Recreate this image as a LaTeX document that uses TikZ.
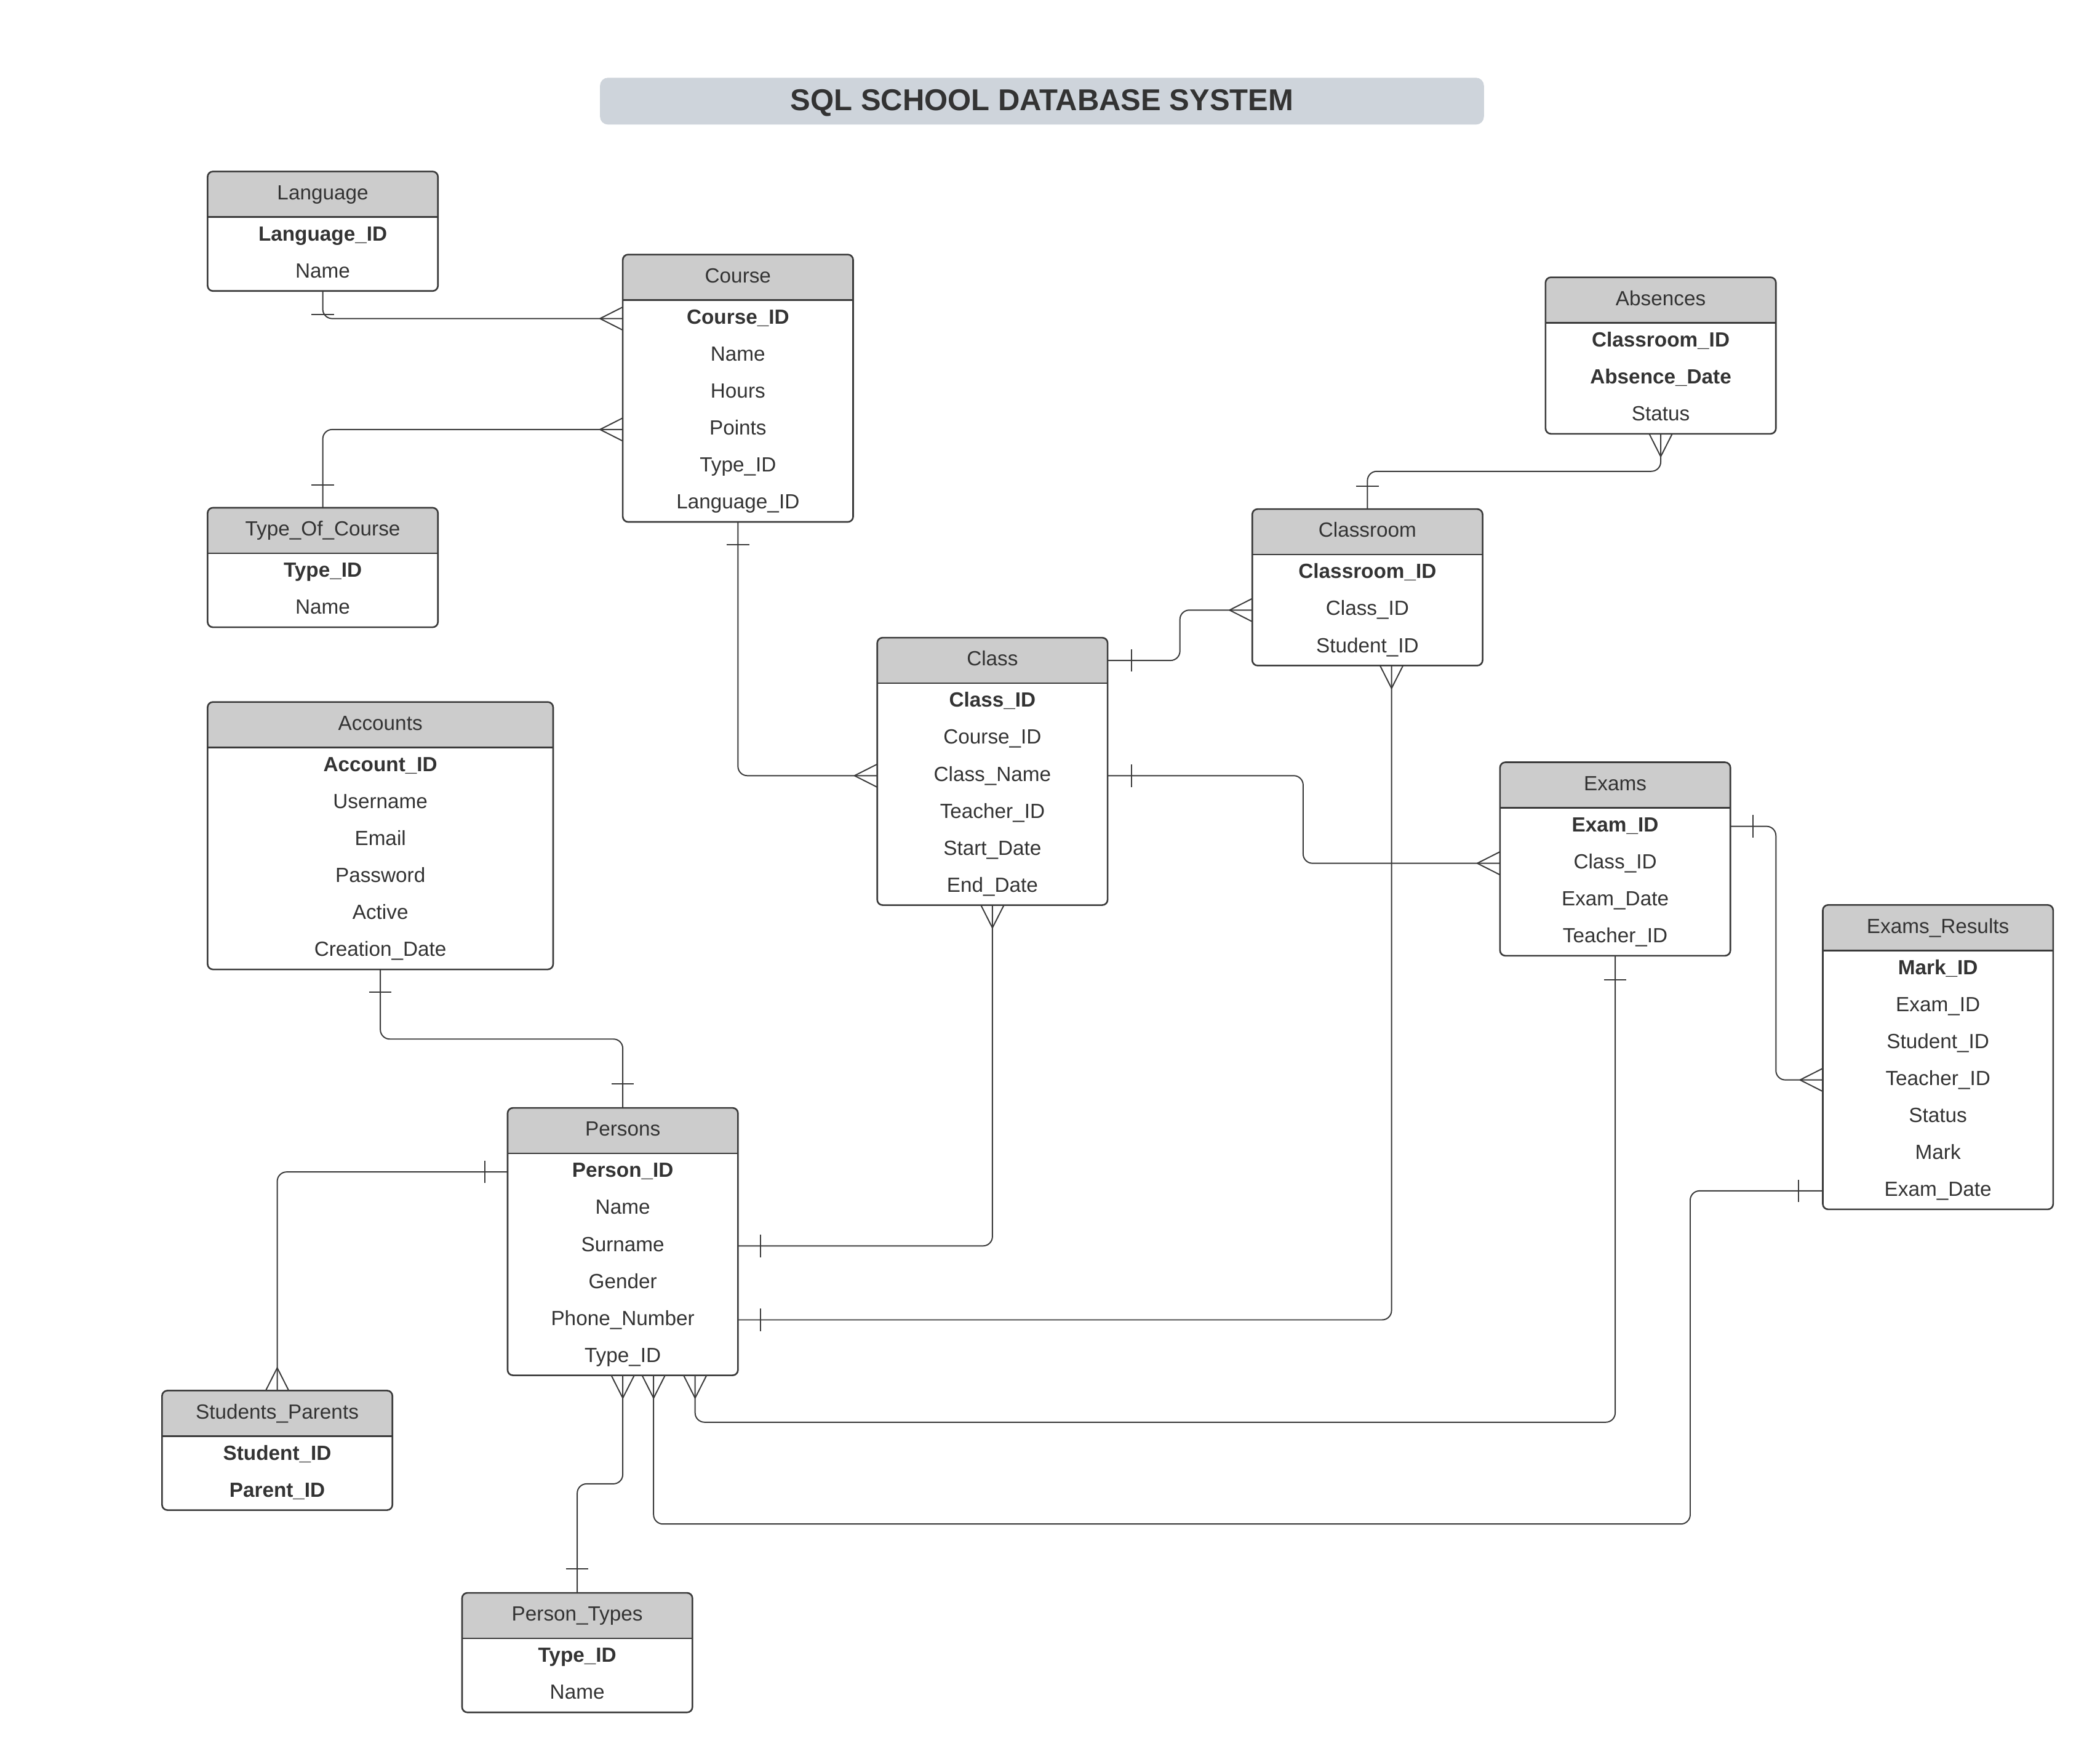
\documentclass[tikz,border=0pt]{standalone}
\usepackage{fontspec}
\setmainfont{Liberation Sans}
\usetikzlibrary{calc}
\definecolor{ink}{HTML}{333333}
\definecolor{hdrgray}{HTML}{CCCCCC}
\definecolor{titlebg}{HTML}{CED4DB}
\definecolor{linec}{HTML}{3A3A3A}
\tikzset{
  ebox/.style={draw=linec, line width=0.6pt, rounded corners=2pt, inner sep=0pt, outer sep=0pt},
  hdrtxt/.style={inner sep=0pt, outer sep=0pt, text=ink, text height=5pt, text depth=1pt, font=\fontsize{7.65}{9}\selectfont},
  rowtxt/.style={inner sep=0pt, outer sep=0pt, text=ink, text height=5pt, text depth=1pt, font=\fontsize{7.65}{9}\selectfont},
  rb/.style={font=\fontsize{7.65}{9}\selectfont\bfseries},
  rn/.style={},
  conn/.style={draw=linec, line width=0.45pt, rounded corners=3.5pt},
}
\newcommand\entity[7]{%
  \fill[hdrgray] (#2,#4+34) [rounded corners=2pt] -- (#2,#4) -- (#2+#3,#4) [sharp corners] -- (#2+#3,#4+34) -- cycle;
  \node[ebox, anchor=north west, minimum width={#3*0.5pt}, minimum height={(34+27.6*#5)*0.5pt}] (#1) at (#2,#4) {};
  \node[hdrtxt, anchor=north west, minimum width={#3*0.5pt}, minimum height=17pt] (#1-h) at (#2,#4) {#6};
  \draw[linec, line width=0.6pt] (#1-h.south west) -- (#1-h.south east);
  \foreach [count=\i] \s/\t in {#7} {
    \node[rowtxt, \s, anchor=north west, minimum width={#3*0.5pt}, minimum height=13.8pt] (#1-\i) at ({#2},{#4+34+27.6*(\i-1)}) {\t};
  }%
}
\newcommand\crowL[1]{\draw[conn] ($(#1)+(-17,0)$) -- ($(#1)+(0,-8.6)$) ($(#1)+(-17,0)$) -- ($(#1)+(0,8.6)$);}
\newcommand\crowB[1]{\draw[conn] ($(#1)+(0,17)$) -- ($(#1)+(-8.6,0)$) ($(#1)+(0,17)$) -- ($(#1)+(8.6,0)$);}
\newcommand\crowT[1]{\draw[conn] ($(#1)+(0,-17)$) -- ($(#1)+(-8.6,0)$) ($(#1)+(0,-17)$) -- ($(#1)+(8.6,0)$);}
\newcommand\barH[2]{\draw[conn] ($(#1)+(#2,-8.4)$) -- ($(#1)+(#2,8.4)$);}
\newcommand\barV[2]{\draw[conn] ($(#1)+(-8.4,#2)$) -- ($(#1)+(8.4,#2)$);}
\begin{document}
\begin{tikzpicture}[x=0.5pt,y=-0.5pt]
\fill[white] (0,0) rectangle (1568,1313);
\useasboundingbox (0,0) rectangle (1568,1313);
% title
\node[fill=titlebg, rounded corners=3pt, minimum width=330pt, minimum height=17.5pt, inner sep=0pt, text=ink, text height=8pt, text depth=1pt, font=\fontsize{11.25}{13}\selectfont\bfseries] (title) at (778,75.5) {SQL SCHOOL DATABASE SYSTEM};
% entities
\entity{lang}{155}{172}{128}{2}{Language}{rb/Language\_ID, rn/Name}
\entity{course}{465}{172}{190}{6}{Course}{rb/Course\_ID, rn/Name, rn/Hours, rn/Points, rn/Type\_ID, rn/Language\_ID}
\entity{toc}{155}{172}{379}{2}{Type\_Of\_Course}{rb/Type\_ID, rn/Name}
\entity{abs}{1154}{172}{207}{3}{Absences}{rb/Classroom\_ID, rb/Absence\_Date, rn/Status}
\entity{croom}{935}{172}{380}{3}{Classroom}{rb/Classroom\_ID, rn/Class\_ID, rn/Student\_ID}
\entity{class}{655}{172}{476}{6}{Class}{rb/Class\_ID, rn/Course\_ID, rn/Class\_Name, rn/Teacher\_ID, rn/Start\_Date, rn/End\_Date}
\entity{acc}{155}{258}{524}{6}{Accounts}{rb/Account\_ID, rn/Username, rn/Email, rn/Password, rn/Active, rn/Creation\_Date}
\entity{exams}{1120}{172}{569}{4}{Exams}{rb/Exam\_ID, rn/Class\_ID, rn/Exam\_Date, rn/Teacher\_ID}
\entity{res}{1361}{172}{675.5}{7}{Exams\_Results}{rb/Mark\_ID, rn/Exam\_ID, rn/Student\_ID, rn/Teacher\_ID, rn/Status, rn/Mark, rn/Exam\_Date}
\entity{pers}{379}{172}{827}{6}{Persons}{rb/Person\_ID, rn/Name, rn/Surname, rn/Gender, rn/Phone\_Number, rn/Type\_ID}
\entity{sp}{121}{172}{1038}{2}{Students\_Parents}{rb/Student\_ID, rb/Parent\_ID}
\entity{pt}{345}{172}{1189}{2}{Person\_Types}{rb/Type\_ID, rn/Name}
% helper coordinates
\coordinate (cra) at ($(croom.south)+(18,0)$);
\coordinate (pb2) at ($(pers.south)+(23,0)$);
\coordinate (pb3) at ($(pers.south)+(54,0)$);
% connectors
\draw[conn] (lang.south) |- (course-1.west);
\crowL{course-1.west} \barV{lang.south}{17.5}
\draw[conn] (toc.north) |- (course-4.west);
\crowL{course-4.west} \barV{toc.north}{-17}
\draw[conn] (course.south) |- (class-3.west);
\crowL{class-3.west} \barV{course.south}{17}
\draw[conn] (class-h.east) -- ++(54,0) |- (croom-2.west);
\crowL{croom-2.west} \barH{class-h.east}{18}
\draw[conn] (abs.south) -- ++(0,28) -| (croom.north);
\crowB{abs.south} \barV{croom.north}{-17}
\draw[conn] (cra) |- (pers-5.east);
\crowB{cra} \barH{pers-5.east}{17}
\draw[conn] (class.south) |- (pers-3.east);
\crowB{class.south} \barH{pers-3.east}{17}
\draw[conn] (class-3.east) -- ++(146,0) |- (exams-2.west);
\barH{class-3.east}{18} \crowL{exams-2.west}
\draw[conn] (exams-1.east) -- ++(34,0) |- (res-4.west);
\barH{exams-1.east}{17} \crowL{res-4.west}
\draw[conn] (exams.south) |- ($(pb3)+(0,35)$) -- (pb3);
\barV{exams.south}{18} \crowB{pb3}
\draw[conn] (res-7.west) -- ++(-99,0) |- ($(pb2)+(0,111)$) -- (pb2);
\barH{res-7.west}{-18} \crowB{pb2}
\draw[conn] (pers.south) -- ++(0,81) -| (pt.north);
\crowB{pers.south} \barV{pt.north}{-18}
\draw[conn] (pers-1.west) -| (sp.north);
\barH{pers-1.west}{-17} \crowT{sp.north}
\draw[conn] (acc.south) -- ++(0,52) -| (pers.north);
\barV{acc.south}{17} \barV{pers.north}{-18}
\end{tikzpicture}
\end{document}
